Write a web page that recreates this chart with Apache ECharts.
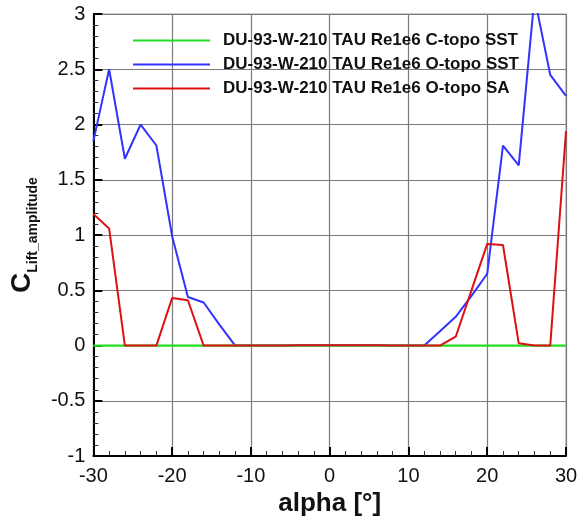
<!DOCTYPE html>
<html>
<head>
<meta charset="utf-8">
<script src="https://cdn.jsdelivr.net/npm/echarts@6/dist/echarts.min.js"></script>
<style>
html,body{margin:0;padding:0;background:#fff;}
#chart{width:583px;height:522px;}
</style>
</head>
<body>
<div id="chart"></div>
<script>
const alpha = [-30,-28,-26,-24,-22,-20,-18,-16,-14,-12,-10,-8,-6,-4,-2,0,2,4,6,8,10,12,14,16,18,20,22,24,26,28,30];
const cTopoSST = [0,0,0,0,0,0,0,0,0,0,0,0,0,0,0,0,0,0,0,0,0,0,0,0,0,0,0,0,0,0,0];
const oTopoSST = [1.85,2.5,1.69,2.0,1.81,0.99,0.44,0.39,0.19,0,0,0,0,0.003,0.002,0.002,0.003,0.003,0.002,0,0,0,0.13,0.26,0.45,0.65,1.81,1.63,3.15,2.45,2.26];
const oTopoSA = [1.19,1.06,0,0,0,0.43,0.41,0,0,0,0,0,0,0.004,0.003,0.003,0.004,0.004,0.002,0,0,0,0,0.08,0.5,0.92,0.91,0.02,0,0,1.94];
const seriesNames = ['DU-93-W-210 TAU Re1e6 C-topo SST','DU-93-W-210 TAU Re1e6 O-topo SST','DU-93-W-210 TAU Re1e6 O-topo SA'];
const seriesColors = ['#22dd22','#3333ff','#dd1111'];

const pairs = arr => alpha.map((a,i)=>[a,arr[i]]);
const font = 'Liberation Sans, Arial, Helvetica, sans-serif';

const chart = echarts.init(document.getElementById('chart'));
chart.setOption({
  animation:false,
  backgroundColor:'#fff',
  textStyle:{fontFamily:font},
  grid:{left:91,right:17,top:14,bottom:62,show:true,borderColor:'#999999',borderWidth:1},
  legend:{
    orient:'vertical', left:133, top:32, itemWidth:77, itemHeight:2, itemGap:7,
    icon:'rect', padding:0,
    data:seriesNames,
    textStyle:{fontFamily:font,fontSize:17,fontWeight:'bold',color:'#111',lineHeight:14,padding:[0,0,0,8]}
  },
  xAxis:{
    type:'value', min:-30, max:30, interval:10,
    name:'alpha [°]', nameLocation:'middle', nameGap:29,
    nameTextStyle:{fontFamily:font,fontSize:26,fontWeight:'bold',color:'#111'},
    axisLine:{onZero:false,lineStyle:{color:'#000',width:2}},
    axisTick:{inside:true,length:9,lineStyle:{color:'#000',width:2}},
    minorTick:{show:true,splitNumber:5,length:5,lineStyle:{color:'#333',width:1}},
    axisLabel:{fontFamily:font,fontSize:20,color:'#111',margin:10},
    splitLine:{show:true,lineStyle:{color:'#7a7a7a',width:1.2}}
  },
  yAxis:{
    type:'value', min:-1, max:3, interval:0.5,
    name:'{c|C}{s|Lift_amplitude}', nameLocation:'middle', nameGap:38,
    nameTextStyle:{
      rich:{
        c:{fontFamily:font,fontSize:28,fontWeight:'bold',color:'#111',verticalAlign:'bottom',lineHeight:30},
        s:{fontFamily:font,fontSize:14,fontWeight:'bold',color:'#111',verticalAlign:'bottom',lineHeight:30,padding:[0,0,-4,0]}
      }
    },
    axisLine:{onZero:false,lineStyle:{color:'#000',width:2}},
    axisTick:{inside:true,length:9,lineStyle:{color:'#000',width:2}},
    minorTick:{show:true,splitNumber:5,length:5,lineStyle:{color:'#333',width:1}},
    axisLabel:{fontFamily:font,fontSize:20,color:'#111',margin:8,formatter:v=>String(v)},
    splitLine:{show:true,lineStyle:{color:'#7a7a7a',width:1.2}}
  },
  series:[
    {name:seriesNames[0],type:'line',data:pairs(cTopoSST),symbol:'none',lineStyle:{color:seriesColors[0],width:2.2},itemStyle:{color:seriesColors[0]},clip:true,z:3},
    {name:seriesNames[1],type:'line',data:pairs(oTopoSST),symbol:'none',lineStyle:{color:seriesColors[1],width:2},itemStyle:{color:seriesColors[1]},clip:true,z:2},
    {name:seriesNames[2],type:'line',data:pairs(oTopoSA),symbol:'none',lineStyle:{color:seriesColors[2],width:2},itemStyle:{color:seriesColors[2]},clip:true,z:4}
  ]
});
</script>
</body>
</html>
